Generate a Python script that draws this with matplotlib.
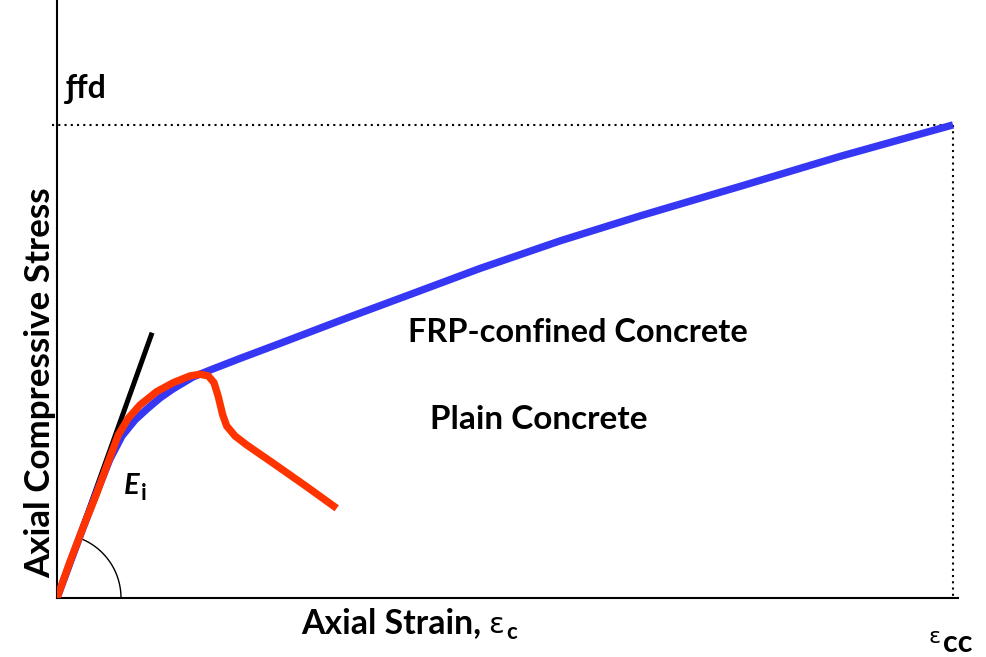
import numpy as np
import matplotlib
matplotlib.use("Agg")
import matplotlib.pyplot as plt

W, H, DPI = 986, 657, 100

# Axial strain (%) and axial stress (% of ultimate confined stress f_fd)
confined_strain = [0.0, 0.0261, 0.0522, 0.0783, 0.1065, 0.1306, 0.1567, 0.1808, 0.2069,
                   0.2330, 0.2732, 0.3134, 0.3676, 0.4480, 0.5826, 0.7152, 0.8498,
                   1.0105, 1.1712, 1.3721, 1.5730, 1.8000]
confined_stress = [0.0, 7.40, 14.80, 21.99, 29.39, 34.25, 37.63, 39.96, 42.28,
                   44.19, 46.72, 48.42, 50.63, 53.81, 59.20, 64.38, 69.66,
                   75.48, 80.76, 87.00, 93.34, 100.0]

plain_strain = [0.0, 0.0261, 0.0530, 0.0799, 0.1031, 0.1231, 0.1432, 0.1667, 0.2003,
                0.2336, 0.2672, 0.2873, 0.3039, 0.3154, 0.3240, 0.3329, 0.3409,
                0.3576, 0.3811, 0.4345, 0.5016, 0.5619]
plain_stress = [0.0, 7.67, 15.07, 22.14, 28.82, 34.46, 37.99, 40.80, 43.62,
                45.52, 46.94, 47.29, 46.94, 45.52, 42.56, 38.69, 36.36,
                34.25, 32.35, 28.48, 23.53, 18.96]

E_i = 293.6            # initial tangent modulus
tangent_end = 0.191    # strain where the tangent line stops
eps_cc = 1.80          # ultimate strain of confined concrete
f_fd = 100.0           # ultimate stress of confined concrete

plt.rcParams['font.family'] = ['Lato', 'DejaVu Sans']

fig = plt.figure(figsize=(W / DPI, H / DPI), dpi=DPI)
ax = fig.add_axes([57 / W, (H - 598) / H, 901 / W, 598 / H])
ax.set_xlim(0, 1.81)
ax.set_ylim(0, 126.4)
for side in ('top', 'right'):
    ax.spines[side].set_visible(False)
for side in ('left', 'bottom'):
    ax.spines[side].set_linewidth(1.5)
    ax.spines[side].set_color('black')
ax.set_xticks([])
ax.set_yticks([])

# initial tangent line
tx = np.array([0.0, tangent_end])
ax.plot(tx, E_i * tx, color='black', lw=3.6, solid_capstyle='butt', zorder=2)

# stress-strain curves
ax.plot(confined_strain, confined_stress, color='#3636f5', lw=5.3,
        solid_capstyle='butt', solid_joinstyle='round', zorder=3)
ax.plot(plain_strain, plain_stress, color='#ff3300', lw=5.3,
        solid_capstyle='butt', solid_joinstyle='round', zorder=4)

# dotted guides to the ultimate point
ax.plot([-0.01, eps_cc], [f_fd, f_fd], color='black', lw=1.5,
        linestyle=(0, (1, 2)), clip_on=False, zorder=1)
ax.plot([eps_cc, eps_cc], [f_fd, 0], color='black', lw=1.5,
        linestyle=(0, (1, 2)), clip_on=False, zorder=1)

# angle arc for the initial modulus (drawn as a circle in screen space)
fig.canvas.draw()
bb = ax.get_window_extent()
sx = bb.width / (ax.get_xlim()[1] - ax.get_xlim()[0])
sy = bb.height / (ax.get_ylim()[1] - ax.get_ylim()[0])
ang = np.arctan2(E_i * sy, sx)
r_px = 64
th = np.linspace(0, ang, 60)
ax.plot(r_px * np.cos(th) / sx, r_px * np.sin(th) / sy, color='black', lw=1.0,
        clip_on=False, zorder=2)

renderer = fig.canvas.get_renderer()


def fit_text(s, x, y, size_px, along='w', **kw):
    """Place text at pixel coords and scale its font so its extent is size_px."""
    t = fig.text(x / W, 1 - y / H, s, **kw)
    t.set_fontsize(20)
    ext = t.get_window_extent(renderer)
    cur = ext.width if along == 'w' else ext.height
    t.set_fontsize(20 * size_px / cur)
    return t


fit_text('Axial Compressive Stress', 40, 383, 391, along='h', rotation=90,
         ha='center', va='center', fontweight='bold')
fit_text('FRP-confined Concrete', 408, 342, 340, ha='left', va='baseline',
         fontweight='bold')
fit_text('Plain Concrete', 430, 429, 217, ha='left', va='baseline',
         fontweight='bold')
fit_text('Axial Strain,', 301, 633, 180, ha='left', va='baseline',
         fontweight='bold')
fig.text(488 / W, 1 - 633 / H, 'ε', fontsize=21, ha='left', va='baseline',
         family=['DejaVu Sans'])
fig.text(506 / W, 1 - 639 / H, 'c', fontsize=16, ha='left', va='baseline',
         fontweight='bold')
fig.text(928 / W, 1 - 643 / H, 'ε', fontsize=16, ha='left', va='baseline',
         family=['DejaVu Sans'])
fig.text(943 / W, 1 - 652 / H, 'cc', fontsize=22, ha='left', va='baseline',
         fontweight='bold')
fig.text(65 / W, 1 - 98 / H, 'ƒfd', fontsize=23, ha='left', va='baseline',
         fontweight='bold')
fig.text(124 / W, 1 - 494 / H, 'E', fontsize=21, ha='left', va='baseline',
         fontweight='bold', style='italic')
fig.text(141 / W, 1 - 500 / H, 'i', fontsize=16, ha='left', va='baseline',
         fontweight='bold')

fig.savefig('out.png', dpi=DPI)
